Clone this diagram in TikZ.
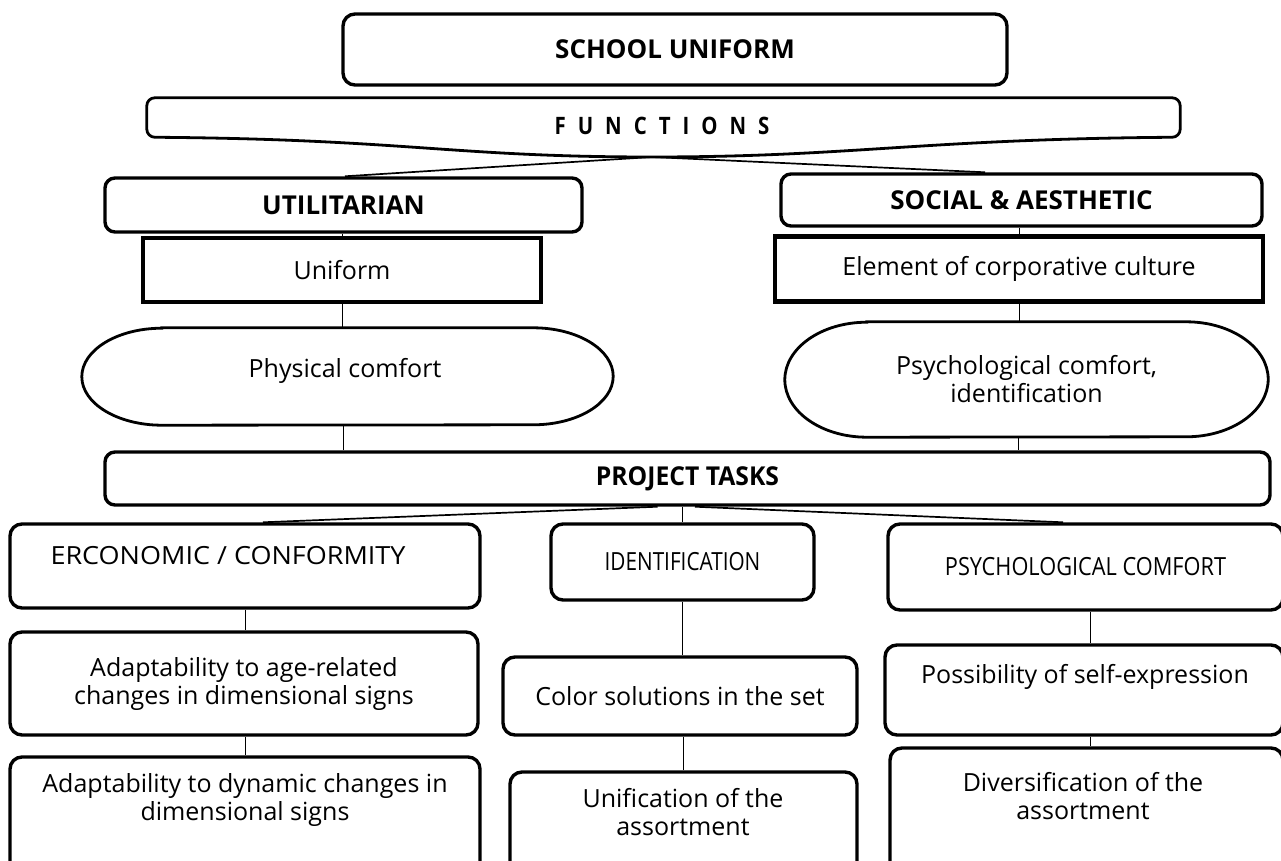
\documentclass[tikz,border=0pt]{standalone}
\usepackage{fontspec}
\setmainfont{Open Sans}
\usetikzlibrary{calc}
\newcommand{\sq}[2]{\scalebox{#1}[1]{#2}}
\begin{document}
\begin{tikzpicture}[x=1pt,y=1pt,
  box/.style={draw, line width=3.4pt, rounded corners=12pt, inner sep=0pt},
  sqbox/.style={draw, line width=4.5pt, inner sep=0pt},
  shapeonly/.style={inner sep=0pt},
  txt/.style={font=\fontsize{25}{28}\selectfont, align=center, inner sep=0pt},
  btxt/.style={font=\fontsize{26}{30}\selectfont\bfseries, inner sep=0pt},
  conn/.style={line width=1pt},
  slant/.style={line width=1.7pt},
  stad/.style={line width=2.8pt},
]
\useasboundingbox (0,0) rectangle (1281,-861);
\clip (0,0) rectangle (1281,-861);

% top
\node[box, minimum width=664pt, minimum height=71pt, btxt] (school) at (675,-49.5) {SCHOOL UNIFORM};

% functions banner
\node[shapeonly, minimum width=1033pt, minimum height=39pt] (func) at (663.5,-117.5) {};
\coordinate (fbot) at (652,-157);
\draw[line width=2.8pt, rounded corners=8pt]
  (fbot) .. controls +(-200,0) and +(260,-2) .. (func.south west)
  -- (func.north west) -- (func.north east) -- (func.south east)
  .. controls +(-260,-2) and +(200,0) .. (fbot);
\node[btxt, font=\fontsize{24}{26}\selectfont\bfseries] (functxt) at (662,-126)
  {\sq{0.85}{F}\hspace{12pt}\sq{0.85}{U}\hspace{12pt}\sq{0.85}{N}\hspace{12pt}\sq{0.85}{C}\hspace{12pt}\sq{0.85}{T}\hspace{12pt}\sq{0.85}{I}\hspace{12pt}\sq{0.85}{O}\hspace{12pt}\sq{0.85}{N}\hspace{12pt}\sq{0.85}{S}};

% left column
\node[box, rounded corners=10pt, minimum width=477pt, minimum height=54pt, btxt] (util) at (343.5,-205) {UTILITARIAN};
\node[sqbox, minimum width=398pt, minimum height=64pt, txt] (unif1) at (342,-270) {Uniform};
\node[shapeonly, minimum width=531pt, minimum height=97pt] (phys) at (347.5,-376.5) {};
\node[txt] (phystxt) at (345,-371) {Physical comfort};
\draw[stad] ([xshift=80pt]phys.north west) -- ([xshift=-80pt]phys.north east)
  arc[start angle=90, end angle=-90, x radius=80pt, y radius=48.5pt]
  -- ([xshift=80pt]phys.south west)
  arc[start angle=270, end angle=90, x radius=80pt, y radius=48.5pt] -- cycle;

% right column
\node[box, rounded corners=10pt, minimum width=481pt, minimum height=52pt, btxt] (social) at (1021.5,-200) {SOCIAL \& AESTHETIC};
\node[sqbox, minimum width=488pt, minimum height=65pt, txt] (elem) at (1019,-269) {Element of corporative culture};
\node[shapeonly, minimum width=483pt, minimum height=115pt, txt] (psych) at (1026.5,-379.5) {Psychological comfort,\\identification};
\draw[stad] ([xshift=82pt]psych.north west) -- ([xshift=-82pt]psych.north east)
  arc[start angle=90, end angle=-90, x radius=82pt, y radius=57.5pt]
  -- ([xshift=82pt]psych.south west)
  arc[start angle=270, end angle=90, x radius=82pt, y radius=57.5pt] -- cycle;

% project tasks
\node[box, rounded corners=10pt, minimum width=1165pt, minimum height=53pt, btxt] (ptasks) at (687.5,-478.5) {\sq{0.95}{PROJECT TASKS}};

% tasks row
\node[box, minimum width=470pt, minimum height=84pt] (erc) at (245,-566) {};
\node[txt] (erctxt) at (228,-556) {\sq{1.08}{ERCONOMIC / CONFORMITY}};
\node[box, minimum width=263pt, minimum height=76pt, txt] (ident) at (682.5,-562) {\sq{0.83}{IDENTIFICATION}};
\node[box, minimum width=395pt, minimum height=86pt, txt] (psyc2) at (1085.5,-567) {\sq{0.87}{PSYCHOLOGICAL COMFORT}};

% second row
\node[box, minimum width=468pt, minimum height=103pt, txt] (adapt1) at (244,-683.5) {Adaptability to age-related\\changes in dimensional signs};
\node[box, minimum width=354pt, minimum height=78pt, txt] (color) at (680,-696) {Color solutions in the set};
\node[box, minimum width=398pt, minimum height=90pt] (poss) at (1084,-690) {};
\node[txt] (posstxt) at (1085,-677) {Possibility of self-expression};

% third row
\node[box, minimum width=470pt, minimum height=123pt] (adapt2) at (245,-818.5) {};
\node[txt] (adapt2txt) at (245,-800) {Adaptability to dynamic changes in\\dimensional signs};
\node[box, minimum width=347pt, minimum height=108pt] (unif2) at (683.5,-826) {};
\node[txt] (unif2txt) at (683,-812) {Unification of the\\assortment};
\node[box, minimum width=393pt, minimum height=132pt] (divers) at (1086.5,-814) {};
\node[txt] (diverstxt) at (1083,-796) {Diversification of the\\assortment};

% connectors
\draw[slant] (fbot) -- ([xshift=1.5pt]util.north);
\draw[slant] (fbot) -- ([xshift=-36.5pt]social.north);
\draw[conn] (unif1.north |- util.south) -- (unif1.north);
\draw[conn] (unif1.south) -- (unif1.south |- phys.north);
\draw[conn] ([xshift=-4.5pt]phys.south) -- ([xshift=-4.5pt]phys.south |- ptasks.north);
\draw[conn] (elem.north |- social.south) -- (elem.north);
\draw[conn] (elem.south) -- (elem.south |- psych.north);
\draw[conn] ([xshift=-8.5pt]psych.south) -- ([xshift=-8.5pt]psych.south |- ptasks.north);

\draw[slant] ([xshift=-30pt]ptasks.south) -- ([xshift=18pt]erc.north);
\draw[conn] (ident.north |- ptasks.south) -- (ident.north);
\draw[slant] ([xshift=7.5pt]ptasks.south) -- ([xshift=-22.5pt]psyc2.north);

\draw[conn] (erc.south) -- (erc.south |- adapt1.north);
\draw[conn] (erc.south |- adapt1.south) -- (erc.south |- adapt2.north);
\draw[conn] (ident.south) -- (ident.south |- color.north);
\draw[conn] ([xshift=3pt]color.south) -- ([xshift=3pt]color.south |- unif2.north);
\draw[conn] ([xshift=4.5pt]psyc2.south) -- ([xshift=4.5pt]psyc2.south |- poss.north);
\draw[conn] ([xshift=4.5pt]psyc2.south |- poss.south) -- ([xshift=4.5pt]psyc2.south |- divers.north);
\end{tikzpicture}
\end{document}
